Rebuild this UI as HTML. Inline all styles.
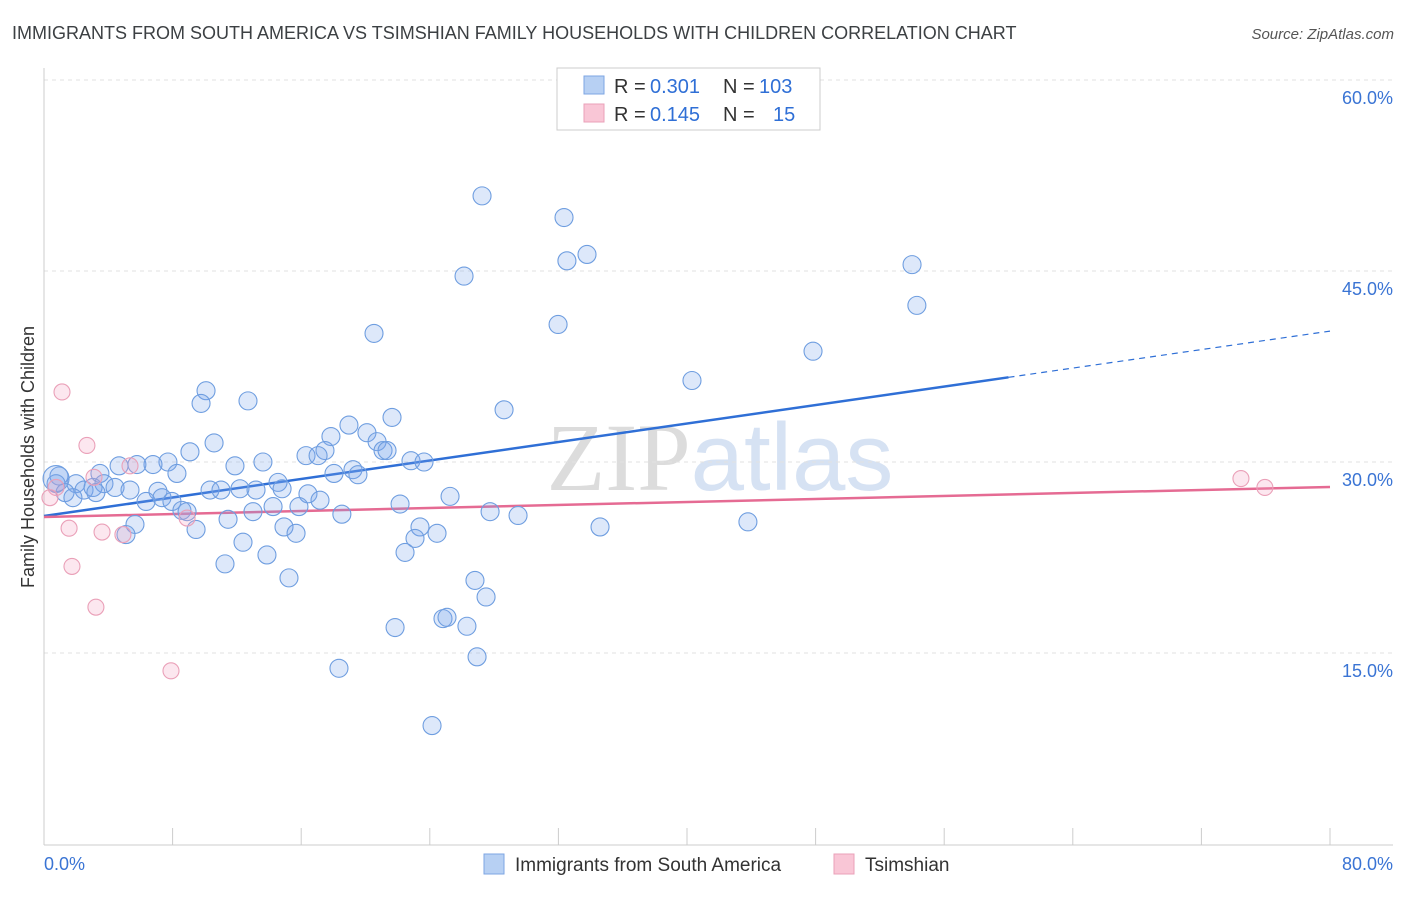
<!DOCTYPE html>
<html><head><meta charset="utf-8"><style>
body{margin:0;background:#fff;font-family:"Liberation Sans",sans-serif;}
svg text{font-family:"Liberation Sans",sans-serif;}
</style></head><body>
<svg id="chart" width="1406" height="892" viewBox="0 0 1406 892" xmlns="http://www.w3.org/2000/svg">
<text x="12" y="39" font-size="18" fill="#3c4043">IMMIGRANTS FROM SOUTH AMERICA VS TSIMSHIAN FAMILY HOUSEHOLDS WITH CHILDREN CORRELATION CHART</text>
<text x="1394" y="39" font-size="15" fill="#555" text-anchor="end" font-style="italic">Source: ZipAtlas.com</text>
<text x="720" y="490" font-size="96" fill="#e4e4e4" text-anchor="middle"><tspan font-family="Liberation Serif" fill="#dcdcdc">ZIP</tspan><tspan fill="#d6e2f3">atlas</tspan></text>
<g id="grid"></g>
<g id="axes"></g>
<g id="trends"></g>
<g id="points"></g>
<text transform="translate(34,457) rotate(-90)" font-size="18" fill="#333" text-anchor="middle">Family Households with Children</text>
<g>
<rect x="557" y="68" width="263" height="62" fill="#fff" stroke="#ccc"/>
<rect x="584" y="76" width="20" height="18" fill="#b7d0f3" stroke="#7ea6e3"/>
<rect x="584" y="104" width="20" height="18" fill="#f9c6d6" stroke="#eaa0b8"/>
<text x="614" y="93" font-size="20" fill="#333">R =</text>
<text x="650" y="93" font-size="20" fill="#2f6fd6">0.301</text>
<text x="723" y="93" font-size="20" fill="#333">N =</text>
<text x="759" y="93" font-size="20" fill="#2f6fd6">103</text>
<text x="614" y="121" font-size="20" fill="#333">R =</text>
<text x="650" y="121" font-size="20" fill="#2f6fd6">0.145</text>
<text x="723" y="121" font-size="20" fill="#333">N =</text>
<text x="773" y="121" font-size="20" fill="#2f6fd6">15</text>
</g>
<g>
<rect x="484" y="854" width="20" height="20" fill="#b7d0f3" stroke="#7ea6e3"/>
<text x="515" y="871" font-size="19" fill="#333">Immigrants from South America</text>
<rect x="834" y="854" width="20" height="20" fill="#f9c6d6" stroke="#eaa0b8"/>
<text x="865" y="871" font-size="19" fill="#333">Tsimshian</text>
</g>
</svg>
<script>
const xTicks=[0,8,16,24,32,40,48,56,64,72,80];
const yTicks=[15,30,45,60];
const blueX=[27.25,32.35,33.78,32.53,26.13,54.0,54.3,31.98,20.53,47.84,40.31,10.08,9.77,12.69,28.62,21.65,18.97,20.09,17.85,10.58,20.72,17.48,21.09,9.08,16.30,17.05,21.34,7.71,6.78,5.78,4.67,13.62,11.88,22.83,23.64,19.22,19.53,18.04,8.27,3.48,0.93,0.75,1.99,2.49,3.05,3.73,4.42,1.31,1.80,3.23,5.35,7.09,6.35,7.34,7.96,8.58,8.90,10.33,11.01,12.19,13.19,14.56,14.81,16.42,17.17,14.25,13.0,11.45,15.86,18.53,22.15,25.26,27.75,29.49,14.93,15.68,5.66,5.10,9.46,12.38,23.39,23.08,24.45,22.46,13.87,11.26,34.59,43.79,15.24,26.81,27.50,24.82,25.07,26.31,21.84,26.94,18.35,24.14,0.75];
const blueY=[50.9,49.2,46.3,45.8,44.6,45.5,42.3,40.8,40.1,38.7,36.4,35.6,34.6,34.8,34.1,33.5,32.9,32.3,32.0,31.5,31.6,30.9,30.9,30.8,30.5,30.5,30.9,30.0,29.8,29.8,29.7,30.0,29.7,30.1,30.0,29.4,29.0,29.1,29.1,29.1,28.9,28.3,28.3,27.8,28.0,28.3,28.0,27.6,27.2,27.6,27.8,27.7,26.9,27.2,26.9,26.2,26.1,27.8,27.8,27.9,27.8,28.4,27.9,27.5,27.0,26.5,26.1,25.5,26.5,25.9,26.7,27.3,26.1,25.8,24.9,24.4,25.1,24.3,24.7,23.7,24.9,24.0,24.4,22.9,22.7,22.0,24.9,25.3,20.9,20.7,19.4,17.7,17.8,17.1,17.0,14.7,13.8,9.3,28.7];
const pinkX=[1.12,2.67,5.35,3.11,0.75,0.37,1.56,3.61,4.91,8.90,1.74,3.23,7.90,74.46,75.95];
const pinkY=[35.5,31.3,29.7,28.8,28.0,27.2,24.8,24.5,24.3,25.6,21.8,18.6,13.6,28.7,28.0];
const blueTrend=[25.76,0.1815];
const pinkTrend=[25.68,0.0295];
const NS="http://www.w3.org/2000/svg";
const X=v=>44+v/80*1286;
const Y=v=>844-v/15*191;
function mk(tag,attrs,parent){const e=document.createElementNS(NS,tag);for(const k in attrs)e.setAttribute(k,attrs[k]);document.getElementById(parent).appendChild(e);return e;}
yTicks.forEach(t=>{
 const g=mk('line',{x1:44,x2:1393,y1:Y(t),y2:Y(t),stroke:'#e2e2e2','stroke-dasharray':'4,4'},'grid');
 
 
 const l=mk('text',{x:1393,y:Y(t)+24,'font-size':18,fill:'#3a74d4','text-anchor':'end'},'axes');
 l.textContent=t.toFixed(1)+'%';
 
 
});
mk('line',{x1:44,x2:44,y1:68,y2:845,stroke:'#ccc'},'axes');
mk('line',{x1:44,x2:1393,y1:845,y2:845,stroke:'#ccc'},'axes');
xTicks.forEach(t=>{
 const tk=mk('line',{x1:X(t),x2:X(t),y1:828,y2:845,stroke:'#ccc'},'axes');
 
 
});
[[0,'start',44],[80,'end',1393]].forEach(([t,a,px])=>{
 const l=mk('text',{x:px,y:870,'font-size':18,fill:'#3a74d4','text-anchor':a},'axes');
 l.textContent=t.toFixed(1)+'%';
 
 
});
const bt=mk('line',{x1:X(0),y1:Y(blueTrend[0]),x2:X(60),y2:Y(blueTrend[0]+60*blueTrend[1]),stroke:'#2f6fd6','stroke-width':2.5},'trends');


const bd=mk('line',{x1:X(60),y1:Y(blueTrend[0]+60*blueTrend[1]),x2:X(80),y2:Y(blueTrend[0]+80*blueTrend[1]),stroke:'#2f6fd6','stroke-width':1.2,'stroke-dasharray':'6,5'},'trends');


const pt=mk('line',{x1:X(0),y1:Y(pinkTrend[0]),x2:X(80),y2:Y(pinkTrend[0]+80*pinkTrend[1]),stroke:'#e56b93','stroke-width':2.5},'trends');


blueX.forEach((x,i)=>{
 const c=mk('circle',{cx:X(x),cy:Y(blueY[i]),r:i==blueX.length-1?13:9,fill:'rgba(120,165,235,0.25)',stroke:'#6f9ee0','stroke-width':1.1},'points');
 
 
});
pinkX.forEach((x,i)=>{
 const c=mk('circle',{cx:X(x),cy:Y(pinkY[i]),r:8,fill:'rgba(245,160,190,0.25)',stroke:'#eaa0b8','stroke-width':1.1},'points');
 
 
});
</script>
</body></html>
